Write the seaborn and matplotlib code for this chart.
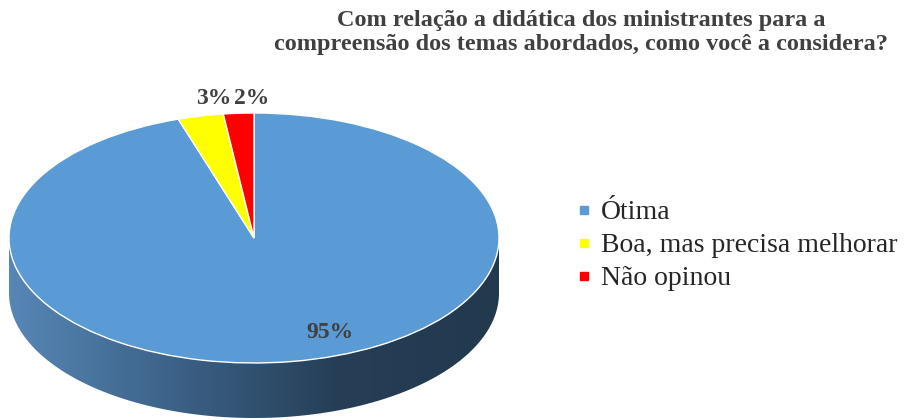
"""
Gráfico de pizza 3D: didática dos ministrantes
Recria o gráfico do Excel com seaborn/matplotlib
"""

import numpy as np
import matplotlib
matplotlib.use("Agg")
import matplotlib.pyplot as plt
import seaborn as sns
from matplotlib.patches import Polygon
from matplotlib.colors import LinearSegmentedColormap
from matplotlib.lines import Line2D

# dados
categorias = ["Ótima", "Boa, mas precisa melhorar", "Não opinou"]
percentuais = [95, 3, 2]
cores = ["#5b9bd5", "#ffff00", "#ff0000"]
titulo = ("Com relação a didática dos ministrantes para a\n"
          "compreensão dos temas abordados, como você a considera?")

sns.set_theme(style="white")
plt.rcParams['font.family'] = ['Liberation Serif', 'DejaVu Serif']

W, H = 908, 420
fig = plt.figure(figsize=(W / 100, H / 100), dpi=100)

# geometria da elipse (pixels) e profundidade da lateral (unidades do raio)
cx, cy, rx, ry = 254, 238, 245, 125
prof = 0.44
ylo, yhi = -1.46, 1.02
ax = fig.add_axes([(cx - rx) / W, 1 - (cy - ylo * ry) / H,
                   2 * rx / W, (yhi - ylo) * ry / H])
ax.set_axis_off()

# lateral da pizza com degradê
t = np.linspace(np.pi, 2 * np.pi, 300)
xs = np.concatenate([np.cos(t), np.cos(t[::-1])])
ys = np.concatenate([np.sin(t), np.sin(t[::-1]) - prof])
lado = Polygon(np.column_stack([xs, ys]), closed=True,
               facecolor='none', edgecolor='none')
ax.add_patch(lado)
cmap = LinearSegmentedColormap.from_list(
    'lado', ['#5787b6', '#3c6288', '#263f57', '#22394e'])
grad = np.linspace(0, 1, 256)[None, :]
im = ax.imshow(grad, cmap=cmap, extent=(-1, 1, -1 - prof, 0),
               aspect='auto', zorder=1)
im.set_clip_path(lado)

# topo da pizza
wedges, texts, autotexts = ax.pie(
    percentuais, colors=cores, startangle=90, counterclock=False,
    autopct='%d%%', pctdistance=0.78,
    wedgeprops=dict(edgecolor='white', linewidth=1, zorder=2, clip_on=False),
    textprops=dict(fontsize=17, fontweight='bold', color='#404040'))

# rótulos das fatias pequenas ficam fora da pizza
for w, txt in zip(wedges[1:], autotexts[1:]):
    ang = np.deg2rad((w.theta1 + w.theta2) / 2)
    txt.set_position((np.cos(ang) + 0.055, 1.12))
    txt.set_ha('center')
autotexts[0].set_position((0.31, -0.76))

ax.set_aspect('auto')
ax.set_xlim(-1, 1)
ax.set_ylim(ylo, yhi)

# título
fig.text(581 / W, 1 - 10 / H, titulo, ha='center', va='top', fontsize=17.5,
         fontweight='bold', color='#404040', linespacing=1.2)

# legenda
handles = [Line2D([], [], marker='s', linestyle='', markersize=6, color=c)
           for c in cores]
fig.legend(handles, categorias, loc='upper left',
           bbox_to_anchor=(577 / W, 1 - 200 / H), frameon=False,
           prop=dict(family='Liberation Serif', size=20),
           handlelength=0.5, handletextpad=0.35, labelspacing=0.27,
           borderpad=0, borderaxespad=0)

fig.savefig('out.png', dpi=100)
